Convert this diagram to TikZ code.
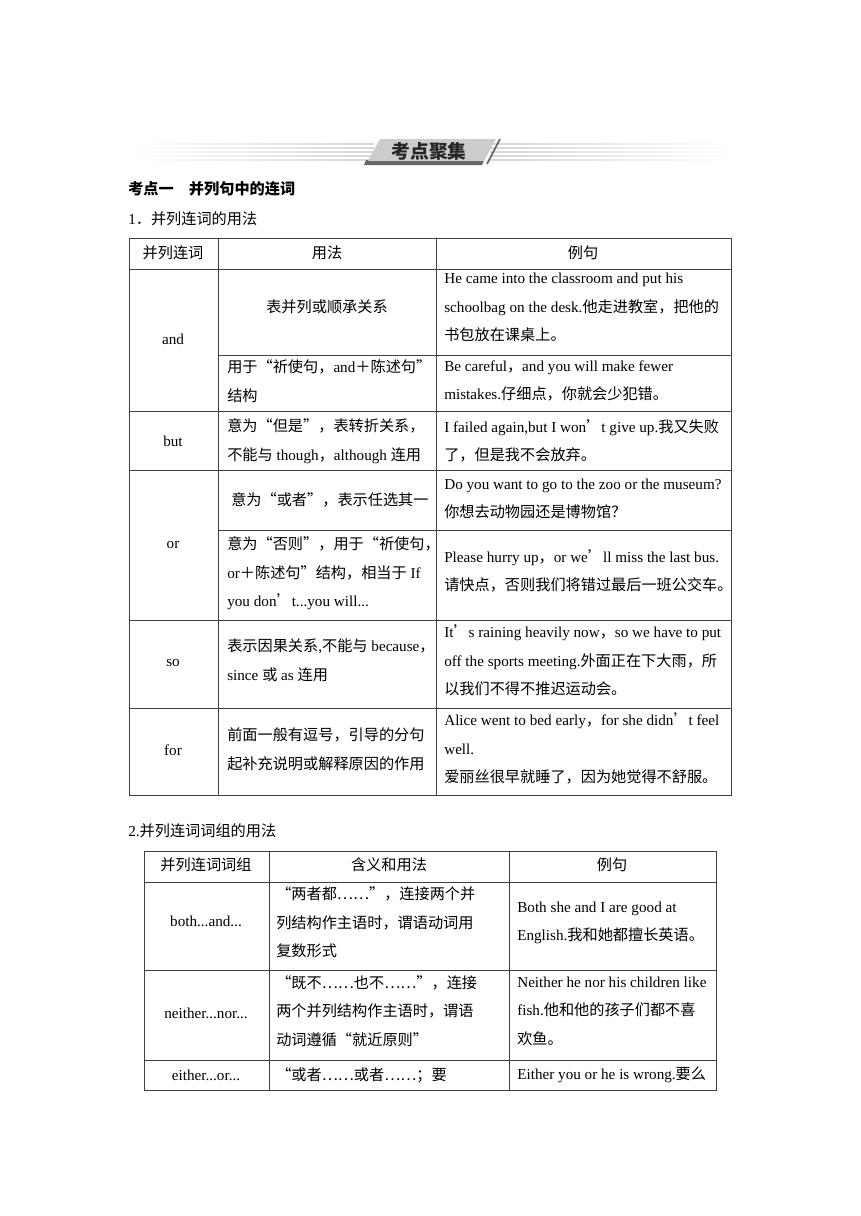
\documentclass[tikz,border=0pt]{standalone}
\usepackage{fontspec}
\setmainfont{Liberation Serif}
\newfontfamily\cjk{Noto Sans CJK SC}[RawFeature=+fwid]
\usetikzlibrary{positioning}

% Chinese characters switch to the CJK font on their own
\newXeTeXintercharclass\zhclass
\newcount\zhc
\def\zhrange#1#2{\zhc=#1 \loop\XeTeXcharclass\zhc=\zhclass
  \ifnum\zhc<#2 \advance\zhc by 1 \repeat}
\zhrange{"4E00}{"9FFF}
\zhrange{"3000}{"303F}
\zhrange{"FF00}{"FFEF}
\XeTeXcharclass"2018=\zhclass
\XeTeXcharclass"2019=\zhclass
\XeTeXcharclass"201C=\zhclass
\XeTeXcharclass"201D=\zhclass
\XeTeXcharclass"2026=\zhclass
\XeTeXinterchartoks 0 \zhclass = {\cjk}
\XeTeXinterchartoks 4095 \zhclass = {\cjk}
\XeTeXinterchartoks \zhclass 0 = {\rmfamily}
\XeTeXinterchartoks \zhclass 4095 = {\rmfamily}
\XeTeXinterchartokenstate=1

\begin{document}
\begin{tikzpicture}
  [x=0.692pt, y=-0.692pt,
    grid/.style={%
      line width=0.55pt, black!75
    },
    txt/.style={%
      anchor=west, align=left, inner sep=0pt,
      font=\fontsize{10.5}{19.8}\selectfont
    },
    mid/.style={%
      align=center, inner sep=0pt,
      font=\fontsize{10.5}{19.8}\selectfont
    },
  ]
  \useasboundingbox (0,0) rectangle (860,1216);

  % banner
  \foreach \yy in {143,147,151,155,159} {
    \shade[left color=white, right color=black!16] (130,\yy) rectangle (374,\yy+1.3);
    \shade[left color=black!16, right color=white] (490,\yy) rectangle (735,\yy+1.3);
  }
  \fill[black!60] (366,160) -- (484,160) -- (482,165) -- (364,165) -- cycle;
  \fill[black!20] (380,139) -- (496,139) -- (484,161) -- (368,161) -- cycle;
  \draw[black!60, line width=1.2pt] (500,139) -- (487,164);
  \node[font=\bfseries\fontsize{13}{15}\selectfont, text=black!85] (banner) at (429,151) {考点聚集};

  \node[anchor=west, inner sep=0pt, font=\bfseries\fontsize{10.5}{12}\selectfont] (topic) at (128,189) {考点一　并列句中的连词};
  \node[anchor=west, inner sep=0pt, font=\fontsize{10.5}{12}\selectfont] (sec1) at (128,219) {1．并列连词的用法};

  % table 1
  \draw[grid] (129,238) rectangle (731,795);
  \foreach \xx in {218,436} \draw[grid] (\xx,238) -- (\xx,795);
  \foreach \yy in {269,411,470,620,708} \draw[grid] (129,\yy) -- (731,\yy);
  \foreach \yy in {355,530} \draw[grid] (218,\yy) -- (731,\yy);

  \node[mid] (h1) at (173,253) {并列连词};
  \node[mid] (h2) at (327,253) {用法};
  \node[mid] (h3) at (583,253) {例句};

  \node[mid] (wand) at (173,339) {and};
  \node[mid] (uand1) at (327,307) {表并列或顺承关系};
  \node[txt] (eand1) at (444,307.5) {He came into the classroom and put his\\schoolbag on the desk.他走进教室，把他的\\书包放在课桌上。};
  \node[txt] (uand2) at (227,381) {用于“祈使句，and＋陈述句”\\结构};
  \node[txt] (eand2) at (444,381) {Be careful，and you will make fewer\\mistakes.仔细点，你就会少犯错。};

  \node[mid] (wbut) at (173,441) {but};
  \node[txt] (ubut) at (227,441) {意为“但是”，表转折关系，\\不能与 though，although 连用};
  \node[txt] (ebut) at (444,441) {I failed again,but I won’t give up.我又失败\\了，但是我不会放弃。};

  \node[mid] (wor) at (173,545) {or};
  \node[txt] (uor1) at (231,500) {意为“或者”，表示任选其一};
  \node[txt] (eor1) at (444,499) {Do you want to go to the zoo or the museum?\\你想去动物园还是博物馆？};
  \node[txt] (uor2) at (227,573.5) {意为“否则”，用于“祈使句，\\or＋陈述句”结构，相当于 If\\you don’t...you will...};
  \node[txt] (eor2) at (444,571) {Please hurry up，or we’ll miss the last bus.\\请快点，否则我们将错过最后一班公交车。};

  \node[mid] (wso) at (173,663) {so};
  \node[txt] (uso) at (227,660.5) {表示因果关系,不能与 because，\\since 或 as 连用};
  \node[txt] (eso) at (444,660.5) {It’s raining heavily now，so we have to put\\off the sports meeting.外面正在下大雨，所\\以我们不得不推迟运动会。};

  \node[mid] (wfor) at (173,750) {for};
  \node[txt] (ufor) at (227,749.5) {前面一般有逗号，引导的分句\\起补充说明或解释原因的作用};
  \node[txt] (efor) at (444,748.5) {Alice went to bed early，for she didn’t feel\\well.\\爱丽丝很早就睡了，因为她觉得不舒服。};

  % table 2
  \node[txt] (sec2) at (128,831) {2.并列连词词组的用法};

  \draw[grid] (144,851) rectangle (716,1090);
  \foreach \xx in {269,509} \draw[grid] (\xx,851) -- (\xx,1090);
  \foreach \yy in {882,970,1060} \draw[grid] (144,\yy) -- (716,\yy);

  \node[mid] (g1) at (206,865) {并列连词词组};
  \node[mid] (g2) at (389,865) {含义和用法};
  \node[mid] (g3) at (612,865) {例句};

  \node[mid] (wboth) at (206,921) {both...and...};
  \node[txt] (uboth) at (276,922.5) {“两者都……”，连接两个并\\列结构作主语时，谓语动词用\\复数形式};
  \node[txt] (eboth) at (517,923) {Both she and I are good at\\English.我和她都擅长英语。};

  \node[mid] (wnei) at (206,1013) {neither...nor...};
  \node[txt] (unei) at (276,1011) {“既不……也不……”，连接\\两个并列结构作主语时，谓语\\动词遵循“就近原则”};
  \node[txt] (enei) at (517,1011) {Neither he nor his children like\\fish.他和他的孩子们都不喜\\欢鱼。};

  \node[mid] (weit) at (206,1075) {either...or...};
  \node[txt] (ueit) at (276,1075) {“或者……或者……；要};
  \node[txt] (eeit) at (517,1075) {Either you or he is wrong.要么};
\end{tikzpicture}
\end{document}
